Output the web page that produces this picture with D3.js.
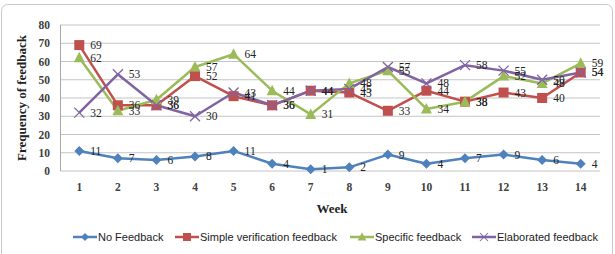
<!DOCTYPE html>
<html><head><meta charset="utf-8">
<script src="https://cdn.jsdelivr.net/npm/d3@7/dist/d3.min.js"></script>
<style>body{margin:0;background:#fff;}svg{display:block;}</style>
</head><body>
<svg id="c" width="615" height="254"></svg>
<script>
const weeks = [1,2,3,4,5,6,7,8,9,10,11,12,13,14];
const noFeedback = [11,7,6,8,11,4,1,2,9,4,7,9,6,4];
const simpleVerification = [69,36,36,52,41,36,44,43,33,44,38,43,40,54];
const specificFeedback = [62,33,39,57,64,44,31,48,55,34,38,52,48,59];
const elaboratedFeedback = [32,53,36,30,43,36,44,45,57,48,58,55,50,54];
const seriesNames = ["No Feedback","Simple verification feedback","Specific feedback","Elaborated feedback"];
const yTicks = [0,10,20,30,40,50,60,70,80];

const series = [
  {name: seriesNames[0], values: noFeedback, color: "#4F81BD", marker: "diamond"},
  {name: seriesNames[1], values: simpleVerification, color: "#C0504D", marker: "square"},
  {name: seriesNames[2], values: specificFeedback, color: "#9BBB59", marker: "triangle"},
  {name: seriesNames[3], values: elaboratedFeedback, color: "#8064A2", marker: "x"}
];

const svg = d3.select("#c");
svg.append("rect").attr("x",1.5).attr("y",4.5).attr("width",611).attr("height",260)
  .attr("rx",6).attr("fill","#fff").attr("stroke","#c8c8c8");

const L=60,R=600,T=25,B=171;
const x = d3.scaleBand().domain(weeks).range([L,R]);
const y = d3.scaleLinear().domain([0,80]).range([B,T]);
const cx = d => x(d)+x.bandwidth()/2;

// gridlines
const g = svg.append("g");
g.selectAll("line.grid").data(yTicks).join("line")
  .attr("x1",L).attr("x2",R).attr("y1",d=>y(d)).attr("y2",d=>y(d))
  .attr("stroke","#c4c4c4").attr("stroke-width",1);
g.append("line").attr("x1",L+0.5).attr("x2",L+0.5).attr("y1",T).attr("y2",B).attr("stroke","#a8a8a8");

const serif = "'Liberation Serif','DejaVu Serif',serif";
const yAxis = d3.axisLeft(y).tickValues(yTicks).tickSize(0).tickPadding(10);
const ya = svg.append("g").attr("transform",`translate(${L},0)`).call(yAxis);
ya.select(".domain").remove();
ya.selectAll("text").attr("font-family",serif).attr("font-size",11.5).attr("font-weight","bold").attr("fill","#404040");

const xAxis = d3.axisBottom(x).tickSize(0).tickPadding(12);
const xa = svg.append("g").attr("transform",`translate(0,${B})`).call(xAxis);
xa.select(".domain").remove();
xa.selectAll("text").attr("font-family",serif).attr("font-size",11.5).attr("font-weight","bold").attr("fill","#404040");

svg.append("text").attr("x",332).attr("y",213).attr("text-anchor","middle")
  .attr("font-family",serif).attr("font-size",13).attr("font-weight","bold").attr("fill","#222").text("Week");
svg.append("text").attr("transform","translate(26,98) rotate(-90)").attr("text-anchor","middle")
  .attr("font-family",serif).attr("font-size",13).attr("font-weight","bold").attr("fill","#222").text("Frequency of feedback");

function drawMarker(sel, type, color){
  if(type==="diamond") sel.append("path").attr("d","M0,-5L5,0L0,5L-5,0Z").attr("fill",color);
  else if(type==="square") sel.append("rect").attr("x",-5).attr("y",-5).attr("width",10).attr("height",10).attr("fill",color);
  else if(type==="triangle") sel.append("path").attr("d","M0,-6L5.5,4.5L-5.5,4.5Z").attr("fill",color);
  else sel.append("path").attr("d","M-5,-5L5,5M-5,5L5,-5").attr("stroke",color).attr("stroke-width",1.3).attr("fill","none");
}

const line = d3.line().x((d,i)=>cx(weeks[i])).y(d=>y(d));
series.forEach(s=>{
  svg.append("path").datum(s.values).attr("d",line).attr("fill","none")
    .attr("stroke",s.color).attr("stroke-width",2.5).attr("stroke-linejoin","round");
});
series.forEach(s=>{
  s.values.forEach((v,i)=>{
    const m = svg.append("g").attr("transform",`translate(${cx(weeks[i])},${y(v)})`);
    drawMarker(m, s.marker, s.color);
  });
});
series.forEach(s=>{
  svg.append("g").selectAll("text").data(s.values).join("text")
    .attr("x",(d,i)=>cx(weeks[i])+11).attr("y",d=>y(d)+4)
    .attr("font-family",serif).attr("font-size",11.5).attr("fill","#222").text(d=>d);
});

// legend
const legX = [73,175,350,472];
const sans = "'Liberation Sans Narrow','Liberation Sans',Arial,sans-serif";
series.forEach((s,i)=>{
  const lg = svg.append("g").attr("transform",`translate(${legX[i]},237)`);
  lg.append("line").attr("x1",0).attr("x2",24).attr("y1",0).attr("y2",0).attr("stroke",s.color).attr("stroke-width",2.5);
  const m = lg.append("g").attr("transform","translate(12,0) scale(0.8)");
  drawMarker(m, s.marker, s.color);
  lg.append("text").attr("x",25).attr("y",4).attr("font-family",sans).attr("font-size",11).attr("fill","#222").text(s.name);
});
</script>
</body></html>
